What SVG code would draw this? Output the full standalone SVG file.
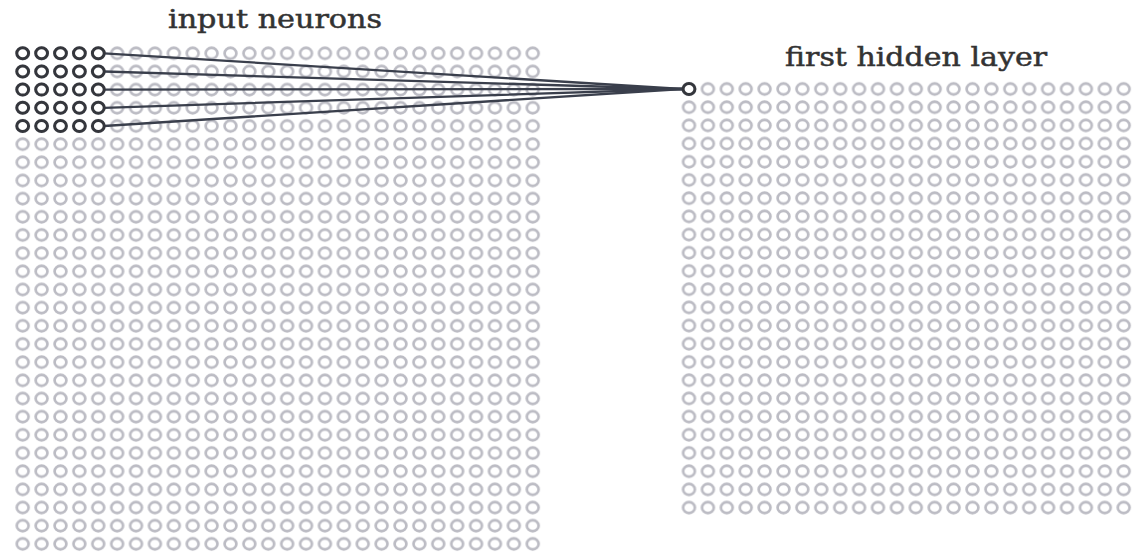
<svg xmlns="http://www.w3.org/2000/svg" xmlns:xlink="http://www.w3.org/1999/xlink" width="1133" height="556" viewBox="0 0 1133 556">
<style>
.lbl{font-family:"DejaVu Serif","Liberation Serif",serif;font-size:26px;fill:#333333;stroke:#333333;stroke-width:0.5}
.light{fill:none;stroke:#bcbcc4;stroke-width:2.7}
.dark{fill:#ffffff;stroke:#34363c;stroke-width:3}
.conn{fill:none;stroke:#3a3f4c;stroke-width:2.3;stroke-linecap:round}
</style>
<defs>
<pattern id="gridIn" patternUnits="userSpaceOnUse" x="13.255" y="44.215" width="18.89" height="18.17">
<ellipse cx="9.445" cy="9.085" rx="5.9" ry="5.5" class="light"/>
</pattern>
<pattern id="gridHid" patternUnits="userSpaceOnUse" x="679.55" y="79.9" width="18.9" height="18.2">
<ellipse cx="9.45" cy="9.1" rx="5.9" ry="5.5" class="light"/>
</pattern>
<ellipse id="dn" cx="0" cy="0" rx="5.9" ry="5.5" class="dark"/>
</defs>
<rect width="1133" height="556" fill="#ffffff"/>
<g id="labels">
<text class="lbl" x="168" y="28" textLength="214" lengthAdjust="spacingAndGlyphs">input neurons</text>
<text class="lbl" x="785" y="66" textLength="262" lengthAdjust="spacingAndGlyphs">first hidden layer</text>
</g>
<g id="input-layer">
<rect x="13.255" y="44.215" width="528.92" height="508.76" fill="url(#gridIn)"/>
</g>
<g id="hidden-layer">
<rect x="679.55" y="79.9" width="453.6" height="436.8" fill="url(#gridHid)"/>
</g>
<g id="connectors">
<line class="conn" x1="104" y1="53.3" x2="682" y2="89"/>
<line class="conn" x1="104" y1="71.5" x2="682" y2="89"/>
<line class="conn" x1="104" y1="89.6" x2="682" y2="89"/>
<line class="conn" x1="104" y1="107.8" x2="682" y2="89"/>
<line class="conn" x1="104" y1="126" x2="682" y2="89"/>
</g>
<g id="receptive-field">
<use xlink:href="#dn" x="22.7" y="53.3"/><use xlink:href="#dn" x="41.6" y="53.3"/><use xlink:href="#dn" x="60.5" y="53.3"/><use xlink:href="#dn" x="79.4" y="53.3"/><use xlink:href="#dn" x="98.3" y="53.3"/>
<use xlink:href="#dn" x="22.7" y="71.5"/><use xlink:href="#dn" x="41.6" y="71.5"/><use xlink:href="#dn" x="60.5" y="71.5"/><use xlink:href="#dn" x="79.4" y="71.5"/><use xlink:href="#dn" x="98.3" y="71.5"/>
<use xlink:href="#dn" x="22.7" y="89.6"/><use xlink:href="#dn" x="41.6" y="89.6"/><use xlink:href="#dn" x="60.5" y="89.6"/><use xlink:href="#dn" x="79.4" y="89.6"/><use xlink:href="#dn" x="98.3" y="89.6"/>
<use xlink:href="#dn" x="22.7" y="107.8"/><use xlink:href="#dn" x="41.6" y="107.8"/><use xlink:href="#dn" x="60.5" y="107.8"/><use xlink:href="#dn" x="79.4" y="107.8"/><use xlink:href="#dn" x="98.3" y="107.8"/>
<use xlink:href="#dn" x="22.7" y="126"/><use xlink:href="#dn" x="41.6" y="126"/><use xlink:href="#dn" x="60.5" y="126"/><use xlink:href="#dn" x="79.4" y="126"/><use xlink:href="#dn" x="98.3" y="126"/>
</g>
<g id="hidden-neuron">
<use xlink:href="#dn" x="689" y="89"/>
</g>
</svg>
